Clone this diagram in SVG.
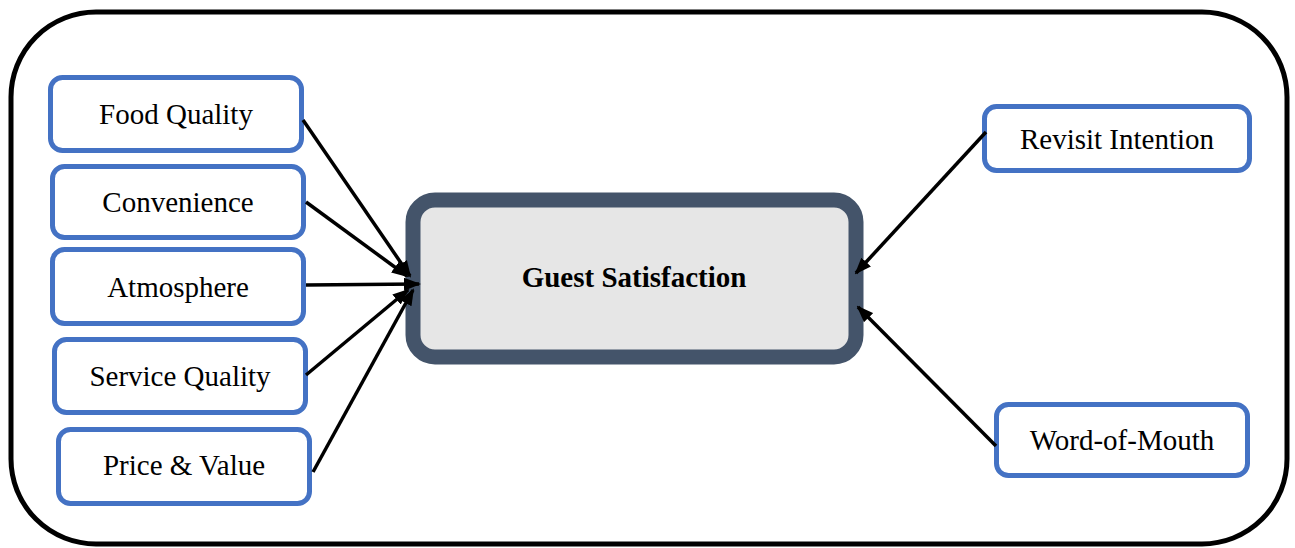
<svg xmlns="http://www.w3.org/2000/svg" width="1295" height="548" viewBox="0 0 1295 548">
<style>
.frame{fill:#fff;stroke:#000;stroke-width:5}
.box{fill:#fff;stroke:#4472C4;stroke-width:5}
.core{fill:#E6E6E6;stroke:#44546A;stroke-width:15}
.lbl{font-family:"Liberation Serif","Times New Roman",serif;font-size:29px;fill:#000;text-anchor:middle}
.bold{font-weight:bold}
.conn line{stroke:#000;stroke-width:3.5;marker-end:url(#ah)}
</style>
<defs>
<marker id="ah" markerUnits="userSpaceOnUse" markerWidth="17" markerHeight="13" refX="15" refY="6.5" orient="auto">
<path d="M0,0 L17,6.5 L0,13 z" fill="#000"/>
</marker>
</defs>
<rect class="frame" x="11" y="12" width="1276" height="532" rx="85"/>
<g id="food"><rect class="box" x="50.5" y="77.5" width="251" height="73" rx="12"/><text class="lbl" x="176" y="124">Food Quality</text></g>
<g id="convenience"><rect class="box" x="52.5" y="166.5" width="251" height="71" rx="12"/><text class="lbl" x="178" y="212">Convenience</text></g>
<g id="atmosphere"><rect class="box" x="52.5" y="249.5" width="251" height="74" rx="12"/><text class="lbl" x="178" y="297">Atmosphere</text></g>
<g id="service"><rect class="box" x="54.5" y="339.5" width="251" height="73" rx="12"/><text class="lbl" x="180" y="386">Service Quality</text></g>
<g id="price"><rect class="box" x="58.5" y="429.5" width="251" height="74" rx="12"/><text class="lbl" x="184" y="475">Price &amp; Value</text></g>
<g id="guest"><rect class="core" x="413" y="200" width="443" height="157" rx="22"/><text class="lbl bold" x="634" y="287">Guest Satisfaction</text></g>
<g id="revisit"><rect class="box" x="984.5" y="106.5" width="265" height="64" rx="12"/><text class="lbl" x="1117" y="149">Revisit Intention</text></g>
<g id="wom"><rect class="box" x="996.5" y="404.5" width="251" height="71" rx="12"/><text class="lbl" x="1122" y="450">Word-of-Mouth</text></g>
<g id="connectors" class="conn">
<line x1="303" y1="120" x2="410" y2="276"/>
<line x1="306" y1="202" x2="407" y2="276"/>
<line x1="306" y1="285" x2="419" y2="284"/>
<line x1="306" y1="375" x2="408" y2="290"/>
<line x1="313" y1="472" x2="413" y2="290"/>
<line x1="986" y1="132" x2="856" y2="273"/>
<line x1="996" y1="446" x2="858" y2="307"/>
</g>
</svg>
